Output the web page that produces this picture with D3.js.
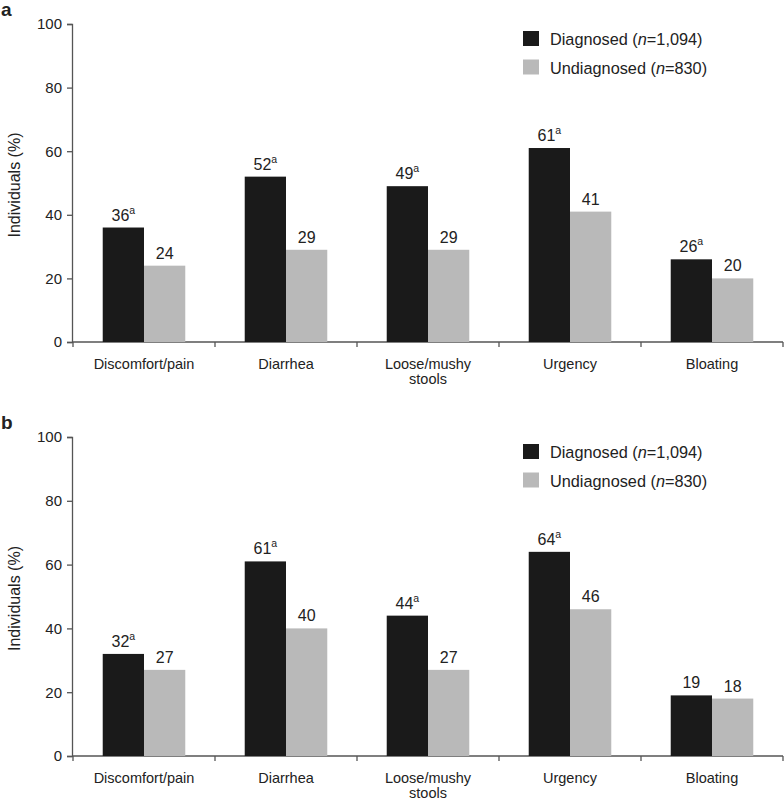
<!DOCTYPE html>
<html><head><meta charset="utf-8">
<script src="https://cdn.jsdelivr.net/npm/d3@7/dist/d3.min.js"></script>
<style>body{margin:0;background:#fff}svg{display:block}text{font-family:"Liberation Sans",Arial,Helvetica,sans-serif;fill:#222}</style>
</head><body>
<script>
const categories = ["Discomfort/pain", "Diarrhea", "Loose/mushy stools", "Urgency", "Bloating"];
const series = ["Diagnosed", "Undiagnosed"];
const legendN = ["1,094", "830"];
const panelA_diagnosed = [36, 52, 49, 61, 26];
const panelA_undiagnosed = [24, 29, 29, 41, 20];
const panelA_sig = [true, true, true, true, true];
const panelB_diagnosed = [32, 61, 44, 64, 19];
const panelB_undiagnosed = [27, 40, 27, 46, 18];
const panelB_sig = [true, true, true, true, false];
const yTicks = [0, 20, 40, 60, 80, 100];
const colors = ["#1a1a1a", "#b9b9b9"];

const W = 784, H = 800;
const svg = d3.select("body").append("svg").attr("width", W).attr("height", H);

function panel(letter, top, bottom, dVals, uVals, sig) {
  const g = svg.append("g");
  const x0 = d3.scaleBand().domain(categories).range([73, 783]).paddingInner(0).paddingOuter(0);
  const x1 = d3.scaleBand().domain(series).range([0, x0.bandwidth()]).paddingInner(0).paddingOuter(0.72);
  const y = d3.scaleLinear().domain([0, 100]).range([bottom, top]);

  g.append("text").attr("x", 1).attr("y", top - 8).attr("font-size", 19).attr("font-weight", "bold").text(letter);

  // y axis
  const ya = g.append("g").attr("transform", "translate(72,0)")
    .call(d3.axisLeft(y).tickValues(yTicks).tickSize(5).tickPadding(5));
  ya.select(".domain").attr("stroke", "#555").attr("stroke-width", 1.3);
  ya.selectAll(".tick line").attr("stroke", "#555").attr("stroke-width", 1.3);
  ya.selectAll(".tick text").attr("font-size", 15).attr("fill", "#333").attr("font-family", "Liberation Sans, Arial, sans-serif");

  g.append("text").attr("transform", `translate(20,${(top + bottom) / 2 + 2}) rotate(-90)`)
    .attr("text-anchor", "middle").attr("font-size", 16).attr("fill", "#333").text("Individuals (%)");

  // x axis
  g.append("line").attr("x1", 72).attr("x2", 783).attr("y1", bottom).attr("y2", bottom)
    .attr("stroke", "#555").attr("stroke-width", 1.3);
  const tickPos = categories.map(c => x0(c)).concat([x0.range()[1]]);
  g.selectAll(".xt").data(tickPos).enter().append("line")
    .attr("x1", d => d).attr("x2", d => d).attr("y1", bottom).attr("y2", bottom + 5)
    .attr("stroke", "#555").attr("stroke-width", 1.3);

  const labels = g.selectAll(".xl").data(categories).enter().append("text")
    .attr("x", d => x0(d) + x0.bandwidth() / 2).attr("y", bottom + 27)
    .attr("text-anchor", "middle").attr("font-size", 14.5).attr("fill", "#333");
  labels.each(function (d) {
    const t = d3.select(this);
    if (d === "Loose/mushy stools") {
      t.append("tspan").attr("x", x0(d) + x0.bandwidth() / 2).attr("dy", 0).text("Loose/mushy");
      t.append("tspan").attr("x", x0(d) + x0.bandwidth() / 2).attr("dy", 14.5).text("stools");
    } else t.text(d);
  });

  const data = categories.map((c, i) => ({ c, vals: [dVals[i], uVals[i]], sig: sig[i] }));
  const grp = g.selectAll(".cg").data(data).enter().append("g")
    .attr("transform", d => `translate(${x0(d.c)},0)`);
  grp.selectAll("rect").data(d => d.vals.map((v, k) => ({ v, k }))).enter().append("rect")
    .attr("x", d => x1(series[d.k])).attr("width", x1.bandwidth())
    .attr("y", d => y(d.v)).attr("height", d => bottom - y(d.v))
    .attr("fill", d => colors[d.k]);
  grp.each(function (d) {
    const gg = d3.select(this);
    d.vals.forEach((v, k) => {
      const t = gg.append("text").attr("x", x1(series[k]) + x1.bandwidth() / 2)
        .attr("y", y(v) - 7).attr("text-anchor", "middle").attr("font-size", 16).attr("fill", "#222");
      t.append("tspan").text(v);
      if (k === 0 && d.sig) t.append("tspan").attr("font-size", 10.5).attr("dy", -7).text("a");
    });
  });

  // legend
  const lg = g.append("g").attr("transform", `translate(523,${top + 7})`);
  series.forEach((s, k) => {
    lg.append("rect").attr("x", 0).attr("y", k * 28.5).attr("width", 16).attr("height", 15).attr("fill", colors[k]);
    const t = lg.append("text").attr("x", 27).attr("y", k * 28.5 + 14).attr("font-size", 16.3).attr("fill", "#222");
    t.append("tspan").text(s + " (");
    t.append("tspan").attr("font-style", "italic").text("n");
    t.append("tspan").text("=" + legendN[k] + ")");
  });
}

panel("a", 24, 342, panelA_diagnosed, panelA_undiagnosed, panelA_sig);
panel("b", 437, 756, panelB_diagnosed, panelB_undiagnosed, panelB_sig);
</script>
</body></html>
